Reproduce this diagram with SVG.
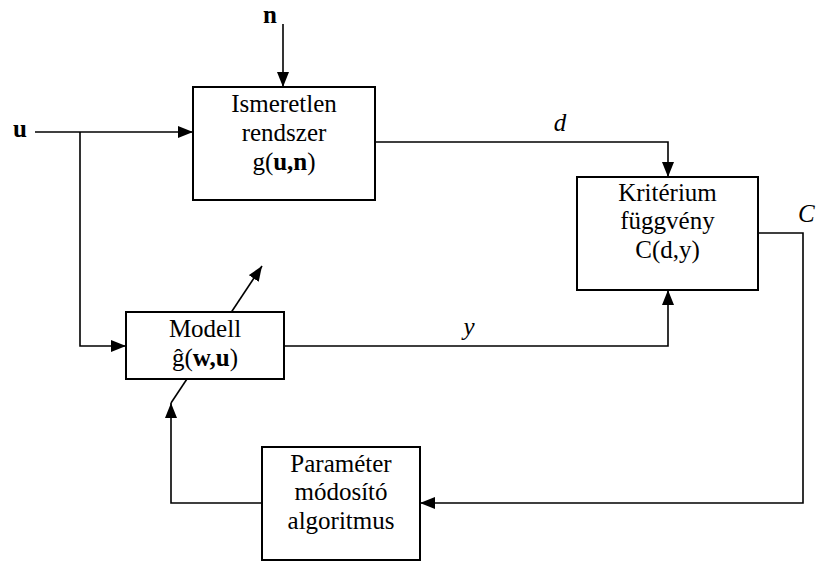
<svg xmlns="http://www.w3.org/2000/svg" width="816" height="563" viewBox="0 0 816 563">
<defs>
<marker id="ah" viewBox="0 0 15 12" refX="15" refY="6" markerWidth="15" markerHeight="12" markerUnits="userSpaceOnUse" orient="auto">
<path d="M0,0 L15,6 L0,12 Z" fill="#000"/>
</marker>
</defs>
<style>
.box{fill:#fff;stroke:#000;stroke-width:2}
.ln{fill:none;stroke:#000;stroke-width:1.6}
.t{font-family:"Liberation Serif","Times New Roman",serif;font-size:25px;fill:#000;text-anchor:middle}
.b{font-weight:bold}
.i{font-style:italic}
</style>
<g id="connectors">
<line class="ln" x1="283" y1="24" x2="283" y2="87" marker-end="url(#ah)"/>
<line class="ln" x1="35" y1="132" x2="193" y2="132" marker-end="url(#ah)"/>
<polyline class="ln" points="80,132 80,346 126,346" marker-end="url(#ah)"/>
<polyline class="ln" points="375,142 668,142 668,177" marker-end="url(#ah)"/>
<polyline class="ln" points="284,346 668,346 668,290" marker-end="url(#ah)"/>
<polyline class="ln" points="758,233 803,233 803,503 420,503" marker-end="url(#ah)"/>
<polyline class="ln" points="262,503 171,503 171,403" marker-end="url(#ah)"/>
<line class="ln" x1="171" y1="403" x2="262" y2="266" marker-end="url(#ah)"/>
<text class="t i" x="560" y="131">d</text>
<text class="t i" x="469" y="335">y</text>
<text class="t i" x="798" y="222" style="text-anchor:start">C</text>
</g>
<g id="input-u"><text class="t b" x="20" y="137">u</text></g>
<g id="input-n"><text class="t b" x="270" y="23">n</text></g>
<g id="ismeretlen">
<rect class="box" x="193" y="87" width="182" height="113"/>
<text class="t" x="284" y="112">Ismeretlen</text>
<text class="t" x="284" y="141">rendszer</text>
<text class="t" x="284" y="170">g(<tspan class="b">u,n</tspan>)</text>
</g>
<g id="kriterium">
<rect class="box" x="577" y="177" width="181" height="113"/>
<text class="t" x="667.5" y="201">Kritérium</text>
<text class="t" x="667.5" y="229">függvény</text>
<text class="t" x="667.5" y="258">C(d,y)</text>
</g>
<g id="modell">
<rect class="box" x="126" y="312" width="158" height="67"/>
<text class="t" x="205" y="337">Modell</text>
<text class="t" x="205" y="366">ĝ(<tspan class="b">w,u</tspan>)</text>
</g>
<g id="parameter">
<rect class="box" x="262" y="447" width="158" height="113"/>
<text class="t" x="341" y="472">Paraméter</text>
<text class="t" x="341" y="500">módosító</text>
<text class="t" x="341" y="529">algoritmus</text>
</g>
</svg>
